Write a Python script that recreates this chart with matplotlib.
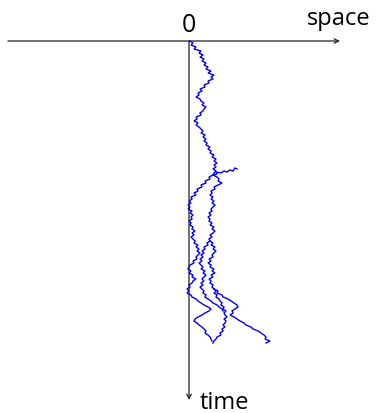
import numpy as np
import matplotlib
matplotlib.use("Agg")
import matplotlib.pyplot as plt

# Branching random walk: horizontal offset (space) sampled every DT time units.
DT = 2

TRUNK_T0 = 0
TRUNK_X = [1, 4, 2, 7, 5, 12, 10, 14, 11, 15, 13, 17, 15, 19, 17, 22, 19, 25, 22, 24,
           19, 20, 15, 16, 11, 13, 9, 10, 7, 11, 12, 15, 13, 17, 15, 14, 11, 12, 7, 8,
           5, 9, 7, 10, 12, 14, 12, 16, 14, 17, 15, 18, 17, 21, 19, 22, 21, 25, 23, 27,
           25, 28, 25, 27, 24, 27, 25, 24]

LEFT_T0 = 134
LEFT_X = [24, 20, 21, 16, 17, 12, 13, 8, 9, 5, 7, 2, 3, 0, 2, -1, 1, -1, 3, 1,
          4, 2, 3, 0, 2, 1, 4, 3, 6, 3, 5, 2, 4, 6, 5, 9, 7, 10, 8, 11,
          9, 7, 8, 4, 5, 1, 0, -1, 2, 0, 4, 3, 7, 4, 3, 0, 1, -2, 0, -2,
          2, 3, 7, 9, 12, 15, 19, 22, 20, 16, 13, 9, 6, 5, 8, 10, 13, 15, 17, 16,
          19, 21, 22, 23]

RIGHT_T0 = 134
RIGHT_X = [24, 28, 30, 29, 33, 29, 25, 26, 22, 23, 21, 24, 22, 25, 23, 26, 24, 22, 23, 20,
           22, 19, 21, 20, 23, 21, 25, 23, 26, 24, 21, 23, 20, 21, 24, 22, 26, 24, 27, 25,
           23, 24, 20, 22, 19, 22, 21, 25, 23, 26, 22, 24, 20, 22, 21, 24, 23, 25]

MID_T0 = 200
MID_X = [21, 18, 19, 15, 16, 13, 15, 12, 14, 11, 13, 10, 12, 14, 12, 16, 14, 17, 15, 13,
         15, 12, 14, 11, 13, 15, 14, 17, 16, 19, 22, 24, 28, 30, 33, 34]

R1_T0 = 248
R1_X = [25, 29, 28, 33, 34, 39, 42, 45, 48, 49, 46, 43, 44, 41, 45, 48, 51, 55, 57, 62,
        64, 69, 72, 75, 77, 76, 81, 77]

R2_T0 = 248
R2_X = [25, 27, 25, 28, 27, 30, 31, 33, 32, 35, 34, 37, 35, 36, 38, 35, 37, 36, 34, 36,
        33, 34, 31, 32, 28, 27, 25, 24]

# Short side branch near the first split, as (space, time) pairs
SPUR_X = [24, 28, 27, 32, 35, 38, 41, 44, 46, 48]
SPUR_T = [134, 133, 131, 132, 130, 131, 129, 130, 127, 128]

fig = plt.figure(figsize=(3.76, 4.14), dpi=100)
ax = fig.add_axes([0, 0, 1, 1])
ax.set_xlim(-189, 187)
ax.set_ylim(372, -42)
ax.axis("off")

axis_kw = dict(arrowstyle="->", lw=0.9, color="#222222",
               shrinkA=0, shrinkB=0, mutation_scale=8)
ax.annotate("", xy=(151, 0), xytext=(-181, 0), arrowprops=axis_kw)
ax.annotate("", xy=(0, 359), xytext=(0, 0), arrowprops=axis_kw)

font = ["Open Sans", "DejaVu Sans"]
ax.text(0, -10, "0", ha="center", va="baseline", fontsize=18, family=font)
ax.text(118, -17, "space", ha="left", va="baseline", fontsize=17, family=font)
ax.text(11, 367, "time", ha="left", va="baseline", fontsize=17, family=font)

line_kw = dict(color="#0000ff", lw=1.0, solid_joinstyle="miter", zorder=3)
for t0, xs in [(TRUNK_T0, TRUNK_X), (LEFT_T0, LEFT_X), (RIGHT_T0, RIGHT_X),
               (MID_T0, MID_X), (R1_T0, R1_X), (R2_T0, R2_X)]:
    ts = t0 + DT * np.arange(len(xs))
    ax.plot(xs, ts, **line_kw)
ax.plot(SPUR_X, SPUR_T, **line_kw)

fig.savefig("out.png", dpi=100)
